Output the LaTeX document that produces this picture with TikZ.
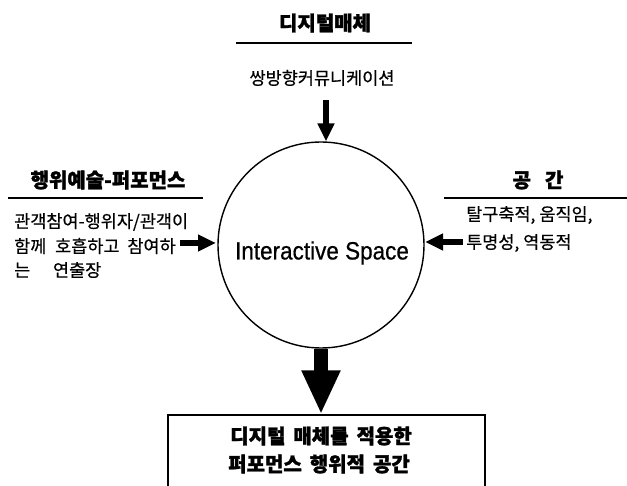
\documentclass[tikz,border=0pt]{standalone}
\usepackage{fontspec}
\newfontfamily\kr{Noto Sans CJK KR}[FakeBold=0.5]
\newfontfamily\krb{Noto Sans CJK KR}[BoldFeatures={FakeBold=1.5}]
\newfontfamily\lat{Liberation Sans}[FakeBold=0.6]
\usetikzlibrary{arrows.meta}
\tikzset{
  ttl/.style={font=\krb\bfseries\fontsize{20}{22}\selectfont, inner sep=0pt},
  txt/.style={font=\kr\fontsize{17.5}{20}\selectfont, inner sep=0pt},
  rule/.style={line width=1.8pt},
  thinarrow/.style={line width=6pt, -{Triangle[length=18pt,width=16pt]}},
  bigarrow/.style={line width=14pt, -{Triangle[length=44pt,width=36pt]}},
}
\begin{document}
\begin{tikzpicture}[x=1pt,y=-1pt]
\useasboundingbox (0,0) rectangle (627,486);
\clip (0,0) rectangle (627,486);
% top
\node[ttl] (t1) at (325,23) {디지털매체};
\coordinate (t1a) at (236,43);
\coordinate (t1b) at (412,43);
\draw[rule] (t1a) -- (t1b);
\node[txt] (t1s) at (322,78) {쌍방향커뮤니케이션};
% circle
\node[draw, circle, line width=1.4pt, minimum size=206pt, inner sep=0pt] (c) at (321,245) {};
\node[inner sep=0pt] (ct) at (322,253) {\scalebox{0.9}[1]{\lat\fontsize{25}{28}\selectfont Interactive Space}};
% top arrow
\coordinate (ta) at (326,100);
\draw[thinarrow] (ta) -- (c.north -| ta);
% left
\node[ttl] (t2) at (108,180) {행위예술-퍼포먼스};
\coordinate (t2a) at (8,198);
\coordinate (t2b) at (203,198);
\draw[rule] (t2a) -- (t2b);
\node[txt, anchor=west] (l1) at (14,222) {관객참여-행위자/관객이};
\node[txt, anchor=west] (l2) at (14,246) {함께\hspace{0.5em}호흡하고\hspace{0.45em}참여하};
\node[txt, anchor=west] (l3) at (14,270) {는\hspace{1.3em}연출장};
\coordinate (la) at (180,243);
\coordinate (lb) at (216,243);
\draw[thinarrow] (la) -- (lb);
% right
\node[ttl] (t3) at (538,180) {공\hspace{0.7em}간};
\coordinate (t3a) at (444,198);
\coordinate (t3b) at (627,198);
\draw[rule] (t3a) -- (t3b);
\node[txt, anchor=west] (r1) at (466,215) {탈구축적, 움직임,};
\node[txt, anchor=west] (r2) at (466,243) {투명성, 역동적};
\coordinate (ra) at (463,242);
\coordinate (rb) at (425,242);
\draw[thinarrow] (ra) -- (rb);
% bottom box
\node[draw, line width=1.4pt, minimum width=317pt, minimum height=90pt, inner sep=0pt] (b) at (326.5,460) {};
\node[ttl] (b1) at (321,436) {디지털\hspace{0.4em}매체를\hspace{0.4em}적용한};
\node[ttl] (b2) at (319,464) {퍼포먼스\hspace{0.4em}행위적\hspace{0.4em}공간};
\draw[bigarrow] (c.south) -- (b.north -| c.south);
\end{tikzpicture}
\end{document}
